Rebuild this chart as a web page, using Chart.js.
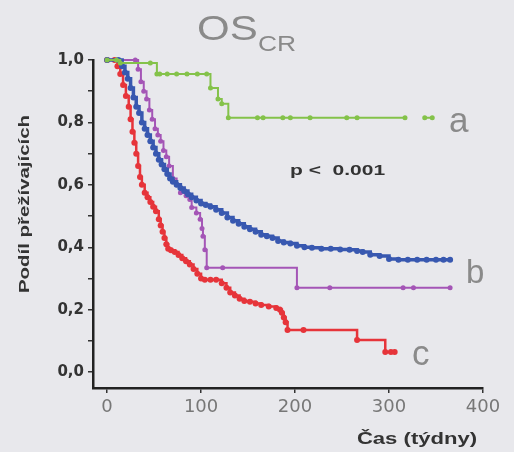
<!DOCTYPE html>
<html>
<head>
<meta charset="utf-8">
<script src="https://cdn.jsdelivr.net/npm/chart.js@4.4.0/dist/chart.umd.min.js"></script>
<style>
  body { margin: 0; background: #e8e8ec; }
  #wrap { width: 514px; height: 452px; }
</style>
</head>
<body>
<div id="wrap"><canvas id="os-chart" width="514" height="452"></canvas></div>
<script>
// axis ticks
const xTicks = [0, 100, 200, 300, 400]
const yTicks = [0, 0.1, 0.2, 0.3, 0.4, 0.5, 0.6, 0.7, 0.8, 0.9, 1.0]
const yTickLabels = ['0,0', '', '0,2', '', '0,4', '', '0,6', '', '0,8', '', '1,0']

// group a (green)
const aTime = [0, 10, 14, 46, 53, 56, 64, 74, 85, 96, 106, 110, 118, 122, 129, 160, 166, 187, 195, 216, 255, 266, 317, 330, 338, 346]
const aSurv = [1.0, 1.0, 0.99, 0.99, 0.955, 0.955, 0.955, 0.955, 0.955, 0.955, 0.955, 0.91, 0.875, 0.86, 0.815, 0.815, 0.815, 0.815, 0.815, 0.815, 0.815, 0.815, 0.815, null, 0.815, 0.815]

// group b (blue)
const bTime = [0, 12, 16, 19, 22, 25, 28, 31, 34, 37, 40, 43, 46, 49, 52, 55, 58, 61, 64, 67, 70, 74, 78, 82, 86, 90, 95, 100, 105, 110, 116, 122, 128, 134, 140, 146, 152, 158, 164, 170, 176, 182, 188, 195, 202, 210, 218, 228, 238, 248, 258, 266, 272, 280, 290, 300, 310, 320, 330, 340, 350, 358, 365]
const bSurv = [1.0, 1.0, 0.98, 0.96, 0.94, 0.91, 0.88, 0.85, 0.83, 0.80, 0.78, 0.76, 0.74, 0.72, 0.70, 0.68, 0.665, 0.65, 0.635, 0.62, 0.61, 0.60, 0.59, 0.58, 0.57, 0.56, 0.55, 0.54, 0.535, 0.53, 0.52, 0.51, 0.495, 0.485, 0.475, 0.466, 0.458, 0.45, 0.44, 0.435, 0.43, 0.42, 0.415, 0.412, 0.405, 0.40, 0.398, 0.395, 0.395, 0.393, 0.392, 0.388, 0.385, 0.376, 0.372, 0.362, 0.36, 0.36, 0.36, 0.36, 0.36, 0.36, 0.36]

// purple curve
const pTime = [0, 30, 33, 36, 39, 42, 45, 48, 51, 54, 57, 60, 63, 66, 70, 74, 78, 84, 88, 90, 95, 99, 101, 102, 104, 106, 123, 202, 237, 315, 326, 365]
const pSurv = [1.0, 1.0, 0.97, 0.93, 0.90, 0.875, 0.84, 0.81, 0.78, 0.76, 0.74, 0.71, 0.69, 0.66, 0.62, 0.60, 0.575, 0.565, 0.553, 0.527, 0.51, 0.49, 0.46, 0.435, 0.392, 0.334, 0.334, 0.27, 0.27, 0.27, 0.27, 0.27]

// group c (red)
const cTime = [0, 8, 11, 14, 17, 20, 23, 25, 27, 29, 31, 33, 35, 37, 40, 43, 46, 49, 52, 55, 57, 59, 61, 63, 65, 68, 72, 76, 80, 84, 88, 92, 96, 100, 104, 110, 116, 122, 127, 131, 136, 141, 146, 152, 158, 164, 172, 180, 184, 186, 188, 190, 192, 209, 266, 296, 302, 306]
const cSurv = [1.0, 1.0, 0.98, 0.955, 0.92, 0.885, 0.85, 0.81, 0.77, 0.735, 0.70, 0.66, 0.625, 0.60, 0.575, 0.56, 0.545, 0.53, 0.515, 0.49, 0.47, 0.45, 0.43, 0.41, 0.395, 0.39, 0.385, 0.375, 0.365, 0.355, 0.345, 0.33, 0.315, 0.30, 0.296, 0.296, 0.296, 0.285, 0.27, 0.255, 0.245, 0.235, 0.228, 0.225, 0.22, 0.215, 0.21, 0.205, 0.20, 0.19, 0.175, 0.16, 0.135, 0.135, 0.103, 0.064, 0.064, 0.064]

function toPoints(t, s){
    return t.map((v, i) => ({x: v, y: s[i]}))
}

function km_dataset(t, s, color, lw, r){
    return {
        data: toPoints(t, s),
        showLine: true,
        stepped: true,
        borderColor: color,
        backgroundColor: color,
        borderWidth: lw,
        pointRadius: r,
        pointBorderWidth: 0,
        pointHoverRadius: r,
        spanGaps: false,
        clip: false
    }
}

// text is horizontally wider in the original, so draw it stretched
function wideText(c, txt, x, y, font, sx, align){
    c.save()
    c.font = font
    c.textAlign = align || 'left'
    c.translate(x, y)
    c.scale(sx, 1)
    c.fillText(txt, 0, 0)
    c.restore()
}

const textPlugin = {
    id: 'texts',
    beforeDraw(chart){
        const c = chart.ctx
        c.save()
        c.fillStyle = '#e8e8ec'
        c.fillRect(0, 0, chart.width, chart.height)
        c.restore()
    },
    afterDraw(chart){
        const c = chart.ctx
        c.save()
        c.textBaseline = 'alphabetic'
        // title OS_CR
        c.fillStyle = '#8a8a8a'
        wideText(c, 'OS', 197, 40, '35px Arial, "Liberation Sans", sans-serif', 1.2)
        wideText(c, 'CR', 258, 51, '22px Arial, "Liberation Sans", sans-serif', 1.2)

        // group letters
        wideText(c, 'a', 449, 132, '35px Arial, "Liberation Sans", sans-serif', 1.0)
        wideText(c, 'b', 466, 283, '33px Arial, "Liberation Sans", sans-serif', 1.0)
        wideText(c, 'c', 412, 365, '35px Arial, "Liberation Sans", sans-serif', 1.0)

        // p value
        c.fillStyle = '#333'
        wideText(c, 'p <  0.001', 290, 175, 'bold 15px Arial, "Liberation Sans", sans-serif', 1.4)

        // axis titles
        wideText(c, 'Čas (týdny)', 417, 444, 'bold 16px Arial, "Liberation Sans", sans-serif', 1.38, 'center')
        c.translate(29, 204)
        c.rotate(-Math.PI / 2)
        wideText(c, 'Podíl přežívajících', 0, 0, 'bold 15px Arial, "Liberation Sans", sans-serif', 1.36, 'center')
        c.restore()
    }
}

const config = {
    type: 'scatter',
    data: {
        datasets: [
            km_dataset(aTime, aSurv, '#84c24a', 2, 2.5),
            km_dataset(bTime, bSurv, '#3858b0', 3.5, 3),
            km_dataset(pTime, pSurv, '#a455b6', 2, 2.5),
            km_dataset(cTime, cSurv, '#e6343a', 2.5, 3)
        ]
    },
    options: {
        responsive: false,
        devicePixelRatio: 1,
        animation: false,
        layout: { padding: { left: 0, top: 60, right: 31, bottom: 0 } },
        plugins: {
            legend: { display: false },
            tooltip: { enabled: false }
        },
        scales: {
            x: {
                type: 'linear',
                min: -15,
                max: 400,
                afterBuildTicks: (scale) => { scale.ticks = xTicks.map(v => ({value: v})) },
                afterFit: (scale) => { scale.height = 64 },
                grid: { drawOnChartArea: false, tickLength: 5, color: '#333', lineWidth: 1.5 },
                border: { color: '#222', width: 2.5 },
                ticks: { color: '#777', font: { size: 18, family: '"DejaVu Sans"' }, padding: 4 }
            },
            y: {
                type: 'linear',
                min: -0.051,
                max: 1.0,
                afterBuildTicks: (scale) => { scale.ticks = yTicks.map(v => ({value: v})) },
                afterFit: (scale) => { scale.width = 93 },
                grid: { drawOnChartArea: false, tickLength: 5, color: '#333', lineWidth: 1.5 },
                border: { color: '#222', width: 2.5 },
                ticks: {
                    color: '#333',
                    font: { size: 15, weight: 'bold', family: '"DejaVu Sans"' },
                    padding: 4,
                    callback: (v, i) => yTickLabels[i]
                }
            }
        }
    },
    plugins: [textPlugin]
}

window.onload = () => {
    new Chart(document.getElementById('os-chart'), config)
}
</script>
</body>
</html>
